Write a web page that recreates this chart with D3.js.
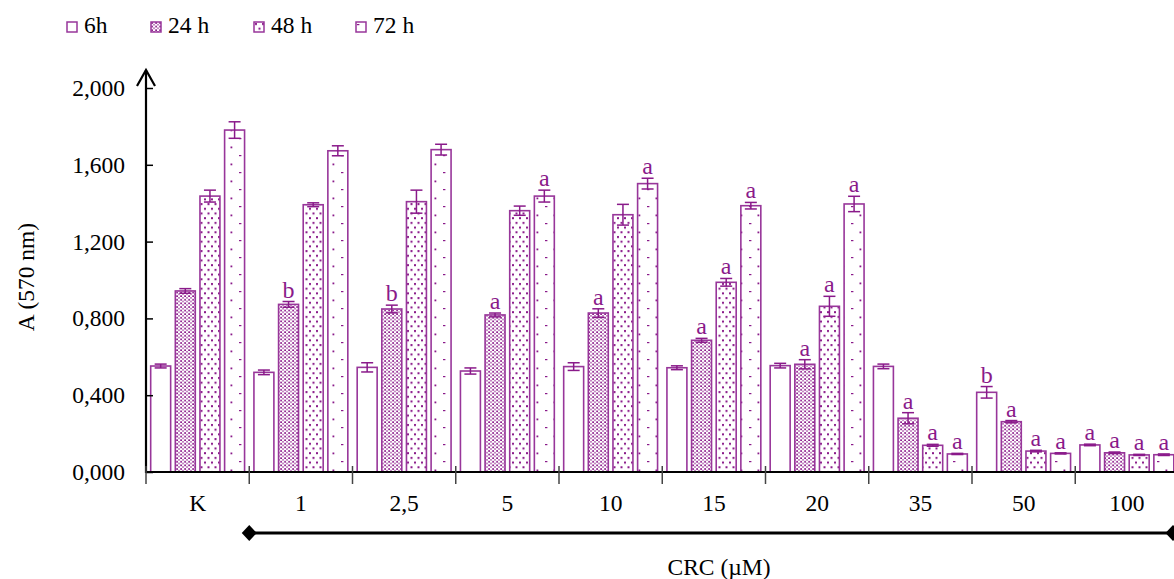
<!DOCTYPE html>
<html>
<head>
<meta charset="utf-8">
<script src="https://cdn.jsdelivr.net/npm/d3@7/dist/d3.min.js"></script>
<style>
  html, body { margin: 0; padding: 0; background: #fff; }
  svg { display: block; }
  svg text { font-family: "Liberation Serif", "DejaVu Serif", serif; }
</style>
</head>
<body>
<svg id="chart" width="1174" height="579"></svg>
<script>
// Data.
const categories = [ 'K', '1', '2,5', '5', '10', '15', '20', '35', '50', '100' ];
const seriesNames = [ '6h', '24 h', '48 h', '72 h' ];

const values6h  = [ 0.552, 0.519, 0.545, 0.526, 0.549, 0.543, 0.554, 0.550, 0.415, 0.141 ];
const values24h = [ 0.943, 0.873, 0.849, 0.818, 0.828, 0.686, 0.561, 0.280, 0.262, 0.100 ];
const values48h = [ 1.437, 1.392, 1.408, 1.361, 1.340, 0.988, 0.863, 0.139, 0.109, 0.089 ];
const values72h = [ 1.781, 1.673, 1.679, 1.437, 1.502, 1.387, 1.396, 0.094, 0.097, 0.090 ];

const errors6h  = [ 0.010, 0.012, 0.024, 0.016, 0.020, 0.010, 0.012, 0.012, 0.030, 0.004 ];
const errors24h = [ 0.012, 0.015, 0.020, 0.010, 0.022, 0.010, 0.024, 0.029, 0.006, 0.004 ];
const errors48h = [ 0.031, 0.010, 0.060, 0.024, 0.054, 0.020, 0.052, 0.005, 0.004, 0.003 ];
const errors72h = [ 0.043, 0.026, 0.028, 0.031, 0.028, 0.017, 0.040, 0.003, 0.003, 0.004 ];

const letters6h  = [ '', '', '', '', '', '', '', '', 'b', 'a' ];
const letters24h = [ '', 'b', 'b', 'a', 'a', 'a', 'a', 'a', 'a', 'a' ];
const letters48h = [ '', '', '', '', '', 'a', 'a', 'a', 'a', 'a' ];
const letters72h = [ '', '', '', 'a', 'a', 'a', 'a', 'a', 'a', 'a' ];

const yTickValues = [ 0, 0.4, 0.8, 1.2, 1.6, 2.0 ];
const yTickLabels = [ '0,000', '0,400', '0,800', '1,200', '1,600', '2,000' ];

const allValues  = [ values6h, values24h, values48h, values72h ];
const allErrors  = [ errors6h, errors24h, errors48h, errors72h ];
const allLetters = [ letters6h, letters24h, letters48h, letters72h ];

// Sizes and colours.
const purple    = '#8a1a8a';
const barStroke = '#98369a';
const fontSize  = 23.5;
const x0 = 146, xEnd = 146 + 103.25 * categories.length;
const yTop = 88, yBase = 472;

const svg = d3.select( '#chart' );

// Fill patterns, one per series (first one is plain white).
const defs = svg.append( 'defs' );
const p24 = defs.append( 'pattern' ).attr( 'id', 'pat1' )
  .attr( 'patternUnits', 'userSpaceOnUse' ).attr( 'width', 4 ).attr( 'height', 3.6 );
p24.append( 'rect' ).attr( 'width', 4 ).attr( 'height', 3.6 ).attr( 'fill', '#fff' );
p24.append( 'rect' ).attr( 'x', 0.2 ).attr( 'y', 0.2 ).attr( 'width', 1.8 ).attr( 'height', 1.6 ).attr( 'fill', purple );
p24.append( 'rect' ).attr( 'x', 2.3 ).attr( 'y', 2.0 ).attr( 'width', 1.4 ).attr( 'height', 1.3 ).attr( 'fill', purple );

const p48 = defs.append( 'pattern' ).attr( 'id', 'pat2' )
  .attr( 'patternUnits', 'userSpaceOnUse' ).attr( 'width', 7 ).attr( 'height', 9.4 );
p48.append( 'rect' ).attr( 'width', 7 ).attr( 'height', 9.4 ).attr( 'fill', '#fff' );
p48.append( 'rect' ).attr( 'x', 1 ).attr( 'y', 1 ).attr( 'width', 2 ).attr( 'height', 2 ).attr( 'fill', purple );
p48.append( 'rect' ).attr( 'x', 4.5 ).attr( 'y', 5.7 ).attr( 'width', 2 ).attr( 'height', 2 ).attr( 'fill', purple );

const p72 = defs.append( 'pattern' ).attr( 'id', 'pat3' )
  .attr( 'patternUnits', 'userSpaceOnUse' ).attr( 'width', 17 ).attr( 'height', 17 );
p72.append( 'rect' ).attr( 'width', 17 ).attr( 'height', 17 ).attr( 'fill', '#fff' );
p72.append( 'rect' ).attr( 'x', 1 ).attr( 'y', 2 ).attr( 'width', 2.4 ).attr( 'height', 1.2 ).attr( 'fill', purple );
p72.append( 'rect' ).attr( 'x', 9.5 ).attr( 'y', 10.5 ).attr( 'width', 1.8 ).attr( 'height', 1.8 ).attr( 'fill', purple );

const fillFor = i => i === 0 ? '#fff' : `url(#pat${i})`;

// Scales.
const xGroup = d3.scaleBand().domain( categories ).range( [ x0, xEnd ] ).padding( 0 );
const xSeries = d3.scaleBand().domain( d3.range( 4 ) ).range( [ 0, xGroup.bandwidth() ] )
  .paddingInner( 0.19 ).paddingOuter( 0.19 );
const y = d3.scaleLinear().domain( [ 0, 2 ] ).range( [ yBase, yTop ] );

// Flattened bar records.
const bars = [];
categories.forEach( ( c, gi ) => {
  allValues.forEach( ( vals, si ) => {
    bars.push( { cat: c, s: si, value: vals[ gi ], err: allErrors[ si ][ gi ], letter: allLetters[ si ][ gi ] } );
  } );
} );
const barX = d => xGroup( d.cat ) + xSeries( d.s );

// Bars.
svg.append( 'g' ).selectAll( 'rect' ).data( bars ).join( 'rect' )
  .attr( 'x', barX )
  .attr( 'y', d => y( d.value ) )
  .attr( 'width', xSeries.bandwidth() )
  .attr( 'height', d => y( 0 ) - y( d.value ) )
  .attr( 'fill', d => fillFor( d.s ) )
  .attr( 'stroke', barStroke )
  .attr( 'stroke-width', 1.6 );

// Error bars.
const errG = svg.append( 'g' ).attr( 'stroke', purple ).attr( 'stroke-width', 1.5 );
const cx = d => barX( d ) + xSeries.bandwidth() / 2;
errG.selectAll( '.stem' ).data( bars ).join( 'line' ).attr( 'class', 'stem' )
  .attr( 'x1', cx ).attr( 'x2', cx )
  .attr( 'y1', d => y( d.value - d.err ) ).attr( 'y2', d => y( d.value + d.err ) );
errG.selectAll( '.capTop' ).data( bars ).join( 'line' ).attr( 'class', 'capTop' )
  .attr( 'x1', d => cx( d ) - 6 ).attr( 'x2', d => cx( d ) + 6 )
  .attr( 'y1', d => y( d.value + d.err ) ).attr( 'y2', d => y( d.value + d.err ) );
errG.selectAll( '.capBot' ).data( bars ).join( 'line' ).attr( 'class', 'capBot' )
  .attr( 'x1', d => cx( d ) - 6 ).attr( 'x2', d => cx( d ) + 6 )
  .attr( 'y1', d => y( d.value - d.err ) ).attr( 'y2', d => y( d.value - d.err ) );

// Significance letters.
svg.append( 'g' ).selectAll( 'text' ).data( bars.filter( d => d.letter ) ).join( 'text' )
  .attr( 'x', cx )
  .attr( 'y', d => y( d.value + d.err ) - 4 )
  .attr( 'text-anchor', 'middle' )
  .attr( 'font-size', 24 )
  .attr( 'fill', purple )
  .text( d => d.letter );

// Y axis: ticks point inwards, the line ends in an open arrow.
const yAxis = d3.axisLeft( y ).tickValues( yTickValues )
  .tickFormat( ( d, i ) => yTickLabels[ i ] ).tickSizeInner( -7 ).tickSizeOuter( 0 ).tickPadding( 21 );
const yAxisG = svg.append( 'g' ).attr( 'transform', `translate(${x0},0)` ).call( yAxis );
yAxisG.select( '.domain' ).remove();
yAxisG.selectAll( '.tick line' ).attr( 'stroke', '#000' ).attr( 'stroke-width', 1.5 );
yAxisG.selectAll( '.tick text' ).attr( 'font-size', fontSize ).attr( 'fill', '#000' );
svg.append( 'line' ).attr( 'x1', x0 ).attr( 'x2', x0 ).attr( 'y1', y( 0 ) + 1 ).attr( 'y2', y( 2 ) - 18 )
  .attr( 'stroke', '#000' ).attr( 'stroke-width', 2.2 );
svg.append( 'path' )
  .attr( 'd', `M${x0 - 9},${y( 2 ) - 2}L${x0},${y( 2 ) - 18}L${x0 + 9},${y( 2 ) - 2}` )
  .attr( 'fill', 'none' ).attr( 'stroke', '#000' ).attr( 'stroke-width', 2.2 );

// X axis with group labels and boundary ticks.
svg.append( 'line' ).attr( 'x1', x0 ).attr( 'x2', 1174 ).attr( 'y1', yBase ).attr( 'y2', yBase )
  .attr( 'stroke', '#000' ).attr( 'stroke-width', 2 );
svg.append( 'g' ).selectAll( 'line' ).data( categories ).join( 'line' )
  .attr( 'x1', d => xGroup( d ) ).attr( 'x2', d => xGroup( d ) )
  .attr( 'y1', yBase - 6 ).attr( 'y2', yBase + 12 )
  .attr( 'stroke', '#444' ).attr( 'stroke-width', 1.5 );
const xAxis = d3.axisBottom( xGroup ).tickSize( 0 ).tickPadding( 22 );
const xAxisG = svg.append( 'g' ).attr( 'transform', `translate(0,${yBase})` ).call( xAxis );
xAxisG.select( '.domain' ).remove();
xAxisG.selectAll( '.tick text' ).attr( 'font-size', fontSize ).attr( 'fill', '#000' );

// Concentration bracket with diamond ends.
const bx1 = xGroup( '1' ), bx2 = 1173, by = 533;
svg.append( 'line' ).attr( 'x1', bx1 ).attr( 'x2', bx2 ).attr( 'y1', by ).attr( 'y2', by )
  .attr( 'stroke', '#000' ).attr( 'stroke-width', 3 );
[ bx1, bx2 ].forEach( bx => {
  svg.append( 'path' ).attr( 'd', `M${bx - 7.5},${by}L${bx},${by - 8}L${bx + 7.5},${by}L${bx},${by + 8}Z` ).attr( 'fill', '#000' );
} );

// Axis titles.
svg.append( 'text' ).attr( 'x', 719 ).attr( 'y', 575 ).attr( 'text-anchor', 'middle' )
  .attr( 'font-size', fontSize ).text( 'CRC (\u00b5M)' );
svg.append( 'text' ).attr( 'transform', 'translate(34,277) rotate(-90)' ).attr( 'text-anchor', 'middle' )
  .attr( 'font-size', fontSize ).text( 'A (570 nm)' );

// Legend.
const legendX = [ 67, 151, 254, 356 ];
const legend = svg.append( 'g' ).selectAll( 'g' ).data( seriesNames ).join( 'g' )
  .attr( 'transform', ( d, i ) => `translate(${legendX[ i ]},22)` );
legend.append( 'rect' ).attr( 'width', 10 ).attr( 'height', 10 )
  .attr( 'fill', ( d, i ) => fillFor( i ) ).attr( 'stroke', barStroke ).attr( 'stroke-width', 1.5 );
legend.append( 'text' ).attr( 'x', 17 ).attr( 'y', 11 ).attr( 'font-size', fontSize ).text( d => d );
</script>
</body>
</html>
